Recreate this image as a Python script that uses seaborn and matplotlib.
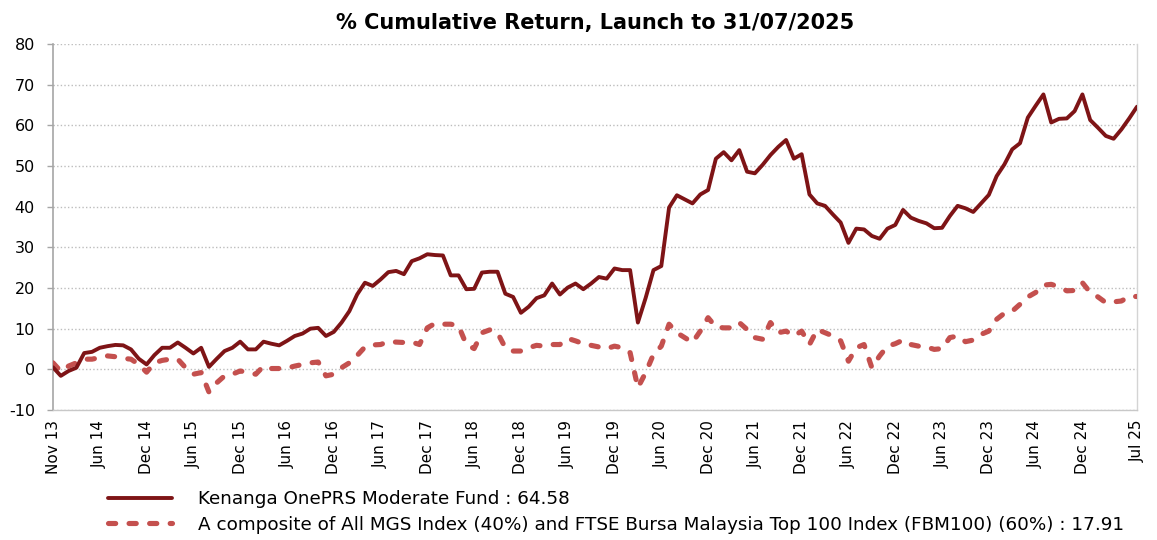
import numpy as np
import pandas as pd
import matplotlib
matplotlib.use("Agg")
import matplotlib.pyplot as plt
import seaborn as sns

title = "% Cumulative Return, Launch to 31/07/2025"
fund_label = "Kenanga OnePRS Moderate Fund : 64.58"
bench_label = ("A composite of All MGS Index (40%) and FTSE Bursa Malaysia "
               "Top 100 Index (FBM100) (60%) : 17.91")

tick_labels = ["Nov 13", "Jun 14", "Dec 14", "Jun 15", "Dec 15", "Jun 16",
               "Dec 16", "Jun 17", "Dec 17", "Jun 18", "Dec 18", "Jun 19",
               "Dec 19", "Jun 20", "Dec 20", "Jun 21", "Dec 21", "Jun 22",
               "Dec 22", "Jun 23", "Dec 23", "Jun 24", "Dec 24", "Jul 25"]

fund = [0.5, -1.6, -0.4, 0.4, 4.0, 4.3, 5.3, 5.7, 6.0, 5.9,
        4.9, 2.6, 1.2, 3.5, 5.3, 5.3, 6.6, 5.3, 3.9, 5.3,
        0.6, 2.6, 4.5, 5.3, 6.8, 4.9, 4.9, 6.8, 6.3, 5.9,
        7.0, 8.2, 8.8, 10.0, 10.2, 8.2, 9.2, 11.5, 14.3, 18.4,
        21.3, 20.5, 22.1, 23.9, 24.2, 23.4, 26.6, 27.3, 28.3, 28.1,
        28.0, 23.1, 23.1, 19.7, 19.8, 23.8, 24.0, 24.0, 18.6, 17.8,
        13.9, 15.4, 17.5, 18.2, 21.1, 18.4, 20.1, 21.1, 19.7, 21.1,
        22.7, 22.3, 24.8, 24.4, 24.4, 11.5, 17.6, 24.4, 25.4, 39.8,
        42.8, 41.8, 40.8, 43.0, 44.1, 51.8, 53.4, 51.4, 53.9, 48.6,
        48.2, 50.3, 52.7, 54.7, 56.4, 51.8, 52.9, 43.0, 40.8, 40.2,
        38.1, 36.1, 31.1, 34.6, 34.4, 32.8, 32.1, 34.6, 35.5, 39.2,
        37.3, 36.5, 35.9, 34.7, 34.8, 37.7, 40.2, 39.6, 38.7, 40.8,
        42.9, 47.5, 50.4, 54.1, 55.6, 61.9, 64.8, 67.6, 60.7, 61.6,
        61.7, 63.5, 67.6, 61.3, 59.4, 57.4, 56.7, 59.0, 61.7, 64.58]

bench = [1.6, -0.5, 0.8, 1.6, 2.5, 2.5, 2.9, 3.3, 3.1, 2.7,
         2.5, 1.2, -0.7, 1.6, 2.2, 2.5, 2.5, 0.4, -1.2, -0.8,
         -5.6, -3.3, -1.6, -1.2, -0.4, -0.8, -1.2, 0.8, 0.2, 0.2,
         0.3, 0.8, 1.2, 1.6, 1.8, -1.6, -1.2, 0.4, 1.6, 3.4,
         5.5, 6.0, 6.1, 6.8, 6.7, 6.6, 6.7, 6.1, 10.2, 11.3,
         11.1, 11.1, 10.7, 6.1, 5.1, 9.0, 9.7, 9.0, 5.3, 4.5,
         4.5, 5.3, 5.9, 5.7, 6.1, 6.1, 7.6, 7.0, 6.3, 5.9,
         5.5, 5.1, 5.7, 5.3, 4.1, -4.5, -0.8, 3.7, 5.7, 11.1,
         9.0, 7.8, 6.6, 9.4, 12.7, 10.4, 10.2, 10.2, 11.5, 9.8,
         7.8, 7.4, 11.5, 9.0, 9.4, 8.2, 9.4, 6.1, 9.8, 9.0,
         8.2, 7.0, 2.0, 5.3, 6.1, 0.4, 3.3, 5.7, 6.3, 7.2,
         6.1, 5.7, 5.5, 4.9, 5.1, 7.8, 8.2, 6.8, 7.2, 8.6,
         9.4, 12.3, 13.8, 14.3, 16.0, 17.8, 18.9, 20.7, 20.9, 20.3,
         19.3, 19.4, 21.3, 18.9, 17.8, 16.4, 16.6, 16.8, 17.9, 17.91]

W, H = 1157, 540
sns.set_theme(style="white")
plt.rcParams['font.family'] = ['DejaVu Sans']
plt.rcParams['axes.unicode_minus'] = False
plt.rcParams['text.color'] = 'black'
plt.rcParams['axes.labelcolor'] = 'black'
plt.rcParams['xtick.color'] = 'black'
plt.rcParams['ytick.color'] = 'black'

n = len(fund)
df = pd.DataFrame({"idx": np.arange(n), "fund": fund, "bench": bench})
tick_pos = [6 * k for k in range(len(tick_labels) - 1)] + [n - 1]

fig = plt.figure(figsize=(W / 100, H / 100), dpi=100)
fig.patch.set_facecolor("white")
ax = fig.add_axes([53 / W, 1 - 410 / H, (1137 - 53) / W, (410 - 44) / H])

sns.lineplot(data=df, x="idx", y="fund", ax=ax, color="#7E1416",
             linewidth=2.8, label=fund_label, zorder=4)
sns.lineplot(data=df, x="idx", y="bench", ax=ax, color="#C4504E",
             linewidth=3.7, label=bench_label, zorder=3)
bl = ax.lines[1]
bl.set_dashes((1.4, 2.6))
bl.set_dash_capstyle("round")
ax.lines[0].set_solid_joinstyle("round")

ax.set_xlim(0, n - 1)
ax.set_ylim(-10, 80)
ax.set_yticks(range(-10, 81, 10))
ax.set_xticks(tick_pos)
ax.set_xticklabels(tick_labels, rotation=90, fontsize=11)
ax.tick_params(axis="y", labelsize=11.5, length=4.5, width=1, color="#A6A6A6",
               pad=8.5, left=True, labelcolor="black")
ax.tick_params(axis="x", length=0, pad=7, labelcolor="black")
ax.set_xlabel("")
ax.set_ylabel("")

ax.yaxis.grid(True, color="#BDBDBD", linewidth=1.0, linestyle=(0, (1, 1.6)))
ax.xaxis.grid(False)
ax.set_axisbelow(True)
for side, sp in ax.spines.items():
    sp.set_linewidth(1.0)
ax.spines["top"].set_visible(False)
ax.spines["right"].set_color("#D4D4D4")
ax.spines["bottom"].set_color("#C8C8C8")
ax.spines["left"].set_color("#A6A6A6")
ax.spines["left"].set_linewidth(1.2)

ax.set_title(title, fontsize=15, fontweight="bold", pad=11, color="black")

handles, labels = ax.get_legend_handles_labels()
ax.get_legend().remove()
leg = fig.legend(handles, labels, loc="upper left",
                 bbox_to_anchor=(108 / W, 1 - 490 / H), frameon=False,
                 prop={"size": 13.2},
                 handlelength=3.5, handletextpad=1.4, labelspacing=0.42,
                 borderaxespad=0, borderpad=0)
for t in leg.get_texts():
    t.set_color("black")

fig.savefig("out.png", dpi=100, facecolor="white")
